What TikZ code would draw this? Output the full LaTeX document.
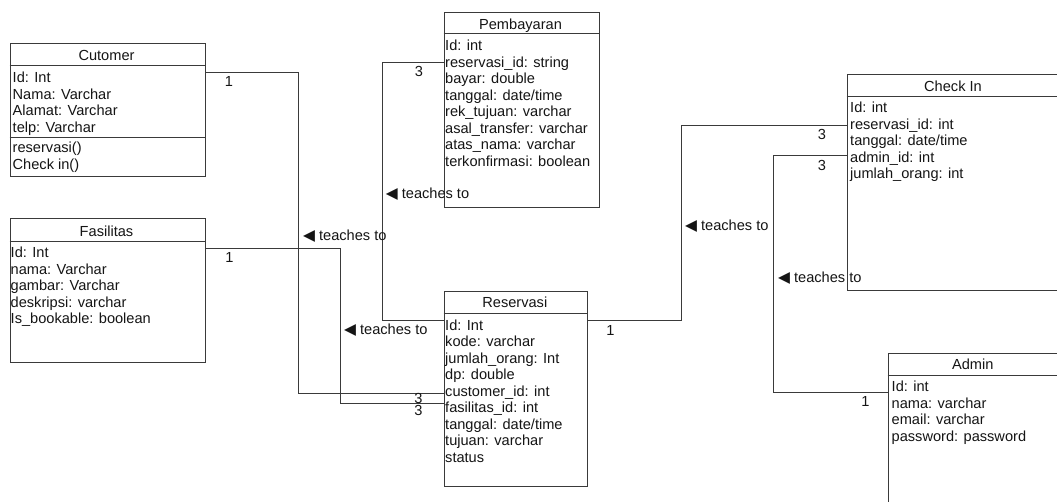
\documentclass[tikz,border=0pt]{standalone}
\usepackage{fontspec}
\setmainfont{Liberation Sans}
\newfontfamily\symfont{DejaVu Sans}
\newcommand\fsz{\fontsize{14.6}{16.5}\selectfont}
\newcommand\tri{{\symfont\fontsize{15.5}{15.5}\selectfont ◀}\hspace{4pt}}
\definecolor{lc}{HTML}{3A3A3A}
\definecolor{tc}{HTML}{151515}
\begin{document}
\begin{tikzpicture}[x=1pt,y=-1pt,
  box/.style={draw=lc, line width=1pt, inner sep=0pt, anchor=north west, fill=white},
  conn/.style={draw=lc, line width=1pt},
  txt/.style={font=\fsz, inner sep=0pt, align=left, anchor=north west, text=tc},
  ttl/.style={font=\fsz, inner sep=0pt, anchor=base, text=tc},
  lbl/.style={font=\fsz, inner sep=0pt, anchor=base west, text=tc},
  mult/.style={font=\fsz, inner sep=0pt, anchor=base, text=tc}]
\fill[white] (0,0) rectangle (1057,501);
\useasboundingbox (0,0) rectangle (1057,501);

% boxes
\node[box, minimum width=195pt, minimum height=133pt] (cust) at (9.5,42.5) {};
\node[box, minimum width=195pt, minimum height=144pt] (fas) at (9.5,217.5) {};
\node[box, minimum width=155pt, minimum height=195pt] (pay) at (443.5,11.5) {};
\node[box, minimum width=143pt, minimum height=195pt] (res) at (443.5,290.5) {};
\node[box, minimum width=214pt, minimum height=216pt] (chk) at (846.5,73.5) {};
\node[box, minimum width=171pt, minimum height=170pt] (adm) at (887.5,352.5) {};

% compartment lines
\draw[conn] ([yshift=-23pt]cust.north west) -- ([yshift=-23pt]cust.north east);
\draw[conn] ([yshift=-95pt]cust.north west) -- ([yshift=-95pt]cust.north east);
\draw[conn] ([yshift=-24pt]fas.north west) -- ([yshift=-24pt]fas.north east);
\draw[conn] ([yshift=-22pt]pay.north west) -- ([yshift=-22pt]pay.north east);
\draw[conn] ([yshift=-23pt]res.north west) -- ([yshift=-23pt]res.north east);
\draw[conn] ([yshift=-23pt]chk.north west) -- ([yshift=-23pt]chk.north east);
\draw[conn] ([yshift=-23pt]adm.north west) -- ([yshift=-23pt]adm.north east);

% titles
\node[ttl] (custT) at (106.5,60.5) {Cutomer};
\node[ttl] (fasT) at (106.5,236) {Fasilitas};
\node[ttl] (payT) at (520.5,29.3) {Pembayaran};
\node[ttl] (resT) at (514.8,307.7) {Reservasi};
\node[ttl] (chkT) at (953,91) {Check In};
\node[ttl] (admT) at (972.7,369.3) {Admin};

% attributes
\node[txt] (custA) at (12.5,71.8) {Id: Int\\Nama: Varchar\\Alamat: Varchar\\telp: Varchar};
\node[txt] (custM) at (12.5,142.2) {reservasi()\\Check in()};
\node[txt] (fasA) at (10.5,246.8) {Id: Int\\nama: Varchar\\gambar: Varchar\\deskripsi: varchar\\Is\_bookable: boolean};
\node[txt] (payA) at (445,40.2) {Id: int\\reservasi\_id: string\\bayar: double\\tanggal: date/time\\rek\_tujuan: varchar\\asal\_transfer: varchar\\atas\_nama: varchar\\terkonfirmasi: boolean};
\node[txt] (resA) at (445,319.5) {Id: Int\\kode: varchar\\jumlah\_orang: Int\\dp: double\\customer\_id: int\\fasilitas\_id: int\\tanggal: date/time\\tujuan: varchar\\status};
\node[txt] (chkA) at (850,102.2) {Id: int\\reservasi\_id: int\\tanggal: date/time\\admin\_id: int\\jumlah\_orang: int};
\node[txt] (admA) at (891.5,381.2) {Id: int\\nama: varchar\\email: varchar\\password: password};

% connectors
\draw[conn] ([yshift=-30pt]cust.north east) -| (298.5,393.5) -- ([yshift=-103pt]res.north west);
\draw[conn] ([yshift=-31pt]fas.north east) -| (340.5,403.5) -- ([yshift=-113pt]res.north west);
\draw[conn] ([yshift=-51pt]pay.north west) -| (382.5,320.5) -- ([yshift=-30pt]res.north west);
\draw[conn] ([yshift=-30pt]res.north east) -| (681.5,125.5) -- ([yshift=-52pt]chk.north west);
\draw[conn] ([yshift=-82pt]chk.north west) -| (773.5,392.5) -- ([yshift=-40pt]adm.north west);

% multiplicities
\node[mult] (m1) at (229,86.7) {1};
\node[mult] (m2) at (229.5,262.7) {1};
\node[mult] (m3) at (419,76.7) {3};
\node[mult] (m4) at (418.5,403) {3};
\node[mult] (m5) at (418.5,415) {3};
\node[mult] (m6) at (610.5,335) {1};
\node[mult] (m7) at (822,139) {3};
\node[mult] (m8) at (822,170) {3};
\node[mult] (m9) at (865.5,406) {1};

% association labels
\node[lbl] (l1) at (303,240) {\tri teaches to};
\node[lbl] (l2) at (344,334) {\tri teaches to};
\node[lbl] (l3) at (385.7,198.3) {\tri teaches to};
\node[lbl] (l4) at (685,230.7) {\tri teaches to};
\node[lbl] (l5) at (778,282.7) {\tri teaches to};
\end{tikzpicture}
\end{document}
